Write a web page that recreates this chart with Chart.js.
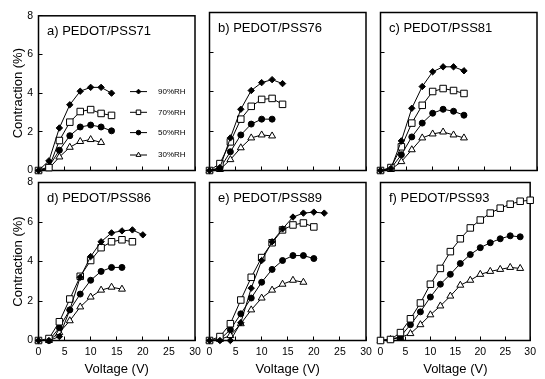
<!DOCTYPE html>
<html><head><meta charset="utf-8">
<script src="https://cdn.jsdelivr.net/npm/chart.js@4.4.1/dist/chart.umd.min.js"></script>
<style>
html,body{margin:0;padding:0;background:#fff;width:545px;height:379px;overflow:hidden}
canvas{position:absolute;left:0;top:0}
</style></head><body>
<canvas id="pa" width="545" height="379"></canvas>
<canvas id="pb" width="545" height="379"></canvas>
<canvas id="pc" width="545" height="379"></canvas>
<canvas id="pd" width="545" height="379"></canvas>
<canvas id="pe" width="545" height="379"></canvas>
<canvas id="pf" width="545" height="379"></canvas>
<script>
// ---- data ----
const volts = [0,2,4,6,8,10,12,14,16,18,20,22,24,26,28,30];
const seriesNames = ['90%RH','70%RH','50%RH','30%RH'];
const xTicks = [0,5,10,15,20,25,30];
const yTicks = [0,2,4,6,8];
const panelTitles = ['a) PEDOT/PSS71','b) PEDOT/PSS76','c) PEDOT/PSS81','d) PEDOT/PSS86','e) PEDOT/PSS89','f) PEDOT/PSS93'];

const a90 = [0, 0.5, 2.2, 3.4, 4.1, 4.3, 4.3, 4.0];
const a70 = [0, 0.15, 1.55, 2.5, 3.05, 3.15, 2.95, 2.85];
const a50 = [0, 0.2, 1.05, 1.8, 2.25, 2.35, 2.25, 2.05];
const a30 = [0, 0.1, 0.7, 1.2, 1.5, 1.6, 1.45];

const b90 = [0, 0.15, 1.65, 3.1, 4.05, 4.45, 4.6, 4.4];
const b70 = [0, 0.35, 1.45, 2.6, 3.25, 3.6, 3.65, 3.35];
const b50 = [0, 0.1, 0.95, 1.8, 2.35, 2.6, 2.6];
const b30 = [0, 0.05, 0.55, 1.15, 1.65, 1.8, 1.75];

const c90 = [0, 0.1, 1.5, 3.15, 4.25, 5.0, 5.25, 5.25, 5.05];
const c70 = [0, 0.15, 1.2, 2.4, 3.3, 4.0, 4.15, 4.05, 3.9];
const c50 = [0, 0.1, 0.8, 1.7, 2.4, 2.9, 3.1, 3.0, 2.8];
const c30 = [0, 0.05, 0.45, 1.05, 1.65, 1.85, 1.95, 1.8, 1.65];

const d90 = [0, 0, 0.2, 1.55, 3.2, 4.25, 5.0, 5.45, 5.55, 5.6, 5.35];
const d70 = [0, 0.1, 0.95, 2.1, 3.25, 4.05, 4.7, 5.0, 5.1, 5.0];
const d50 = [0, 0, 0.65, 1.55, 2.35, 3.05, 3.5, 3.7, 3.7];
const d30 = [0, 0, 0.4, 1.0, 1.7, 2.2, 2.55, 2.7, 2.6];

const e90 = [0, 0, 0, 0.9, 2.65, 4.05, 5.0, 5.65, 6.25, 6.45, 6.5, 6.45];
const e70 = [0, 0.2, 0.85, 2.05, 3.2, 4.2, 4.95, 5.6, 5.85, 5.95, 5.75];
const e50 = [0, 0.05, 0.55, 1.35, 2.15, 2.95, 3.6, 4.05, 4.3, 4.3, 4.15];
const e30 = [0, 0.05, 0.25, 0.85, 1.55, 2.15, 2.55, 2.85, 3.05, 2.95];

const f90 = [];
const f70 = [0, 0.05, 0.4, 1.1, 1.9, 2.85, 3.65, 4.5, 5.15, 5.7, 6.1, 6.45, 6.7, 6.9, 7.05, 7.1];
const f50 = [0, 0.05, 0.2, 0.8, 1.45, 2.2, 2.85, 3.35, 3.9, 4.35, 4.7, 4.95, 5.15, 5.3, 5.25];
const f30 = [0, 0.05, 0.15, 0.35, 0.8, 1.3, 1.75, 2.25, 2.8, 3.05, 3.35, 3.5, 3.6, 3.7, 3.65];

// ---- styles / layout ----
const FONT = '"Liberation Sans", Arial, Helvetica, sans-serif';
Chart.defaults.color = '#000';
Chart.defaults.font.family = FONT;

const styles = [
  {pointStyle:'rectRot', r:3.2, bg:'#000', lr:2.4},
  {pointStyle:'rect', r:4.6, bg:'#fff', lr:3.2},
  {pointStyle:'circle', r:3.0, bg:'#000', lr:2.3},
  {pointStyle:'triangle', r:4.0, bg:'#fff', lr:2.8}
];

const panels = [
  {id:'pa', box:[38.5,12.5,195,170.5], yLab:true,  xLab:false, legend:true,  data:[a90,a70,a50,a30]},
  {id:'pb', box:[209.5,12.5,366,170.5], yLab:false, xLab:false, legend:false, data:[b90,b70,b50,b30]},
  {id:'pc', box:[380.5,12.5,537,170.5], yLab:false, xLab:false, legend:false, data:[c90,c70,c50,c30]},
  {id:'pd', box:[38.5,182.5,195,340.5], yLab:true,  xLab:true,  legend:false, data:[d90,d70,d50,d30]},
  {id:'pe', box:[209.5,182.5,366,340.5], yLab:false, xLab:true,  legend:false, data:[e90,e70,e50,e30]},
  {id:'pf', box:[380.5,182.5,537,340.5], yLab:false, xLab:true,  legend:false, data:[f90,f70,f50,f30]}
];

const framePlugin = {
  id:'frame',
  beforeDatasetsDraw(chart){
    const {ctx, chartArea:a} = chart;
    ctx.save();
    ctx.strokeStyle = '#000';
    ctx.lineWidth = 1.5;
    ctx.strokeRect(a.left, a.top, a.right - a.left, a.bottom - a.top);
    ctx.restore();
  }
};

const titlePlugin = {
  id:'panelTitle',
  afterDraw(chart, args, opts){
    const {ctx, chartArea:a} = chart;
    ctx.save();
    ctx.fillStyle = '#000';
    ctx.font = '13px ' + FONT;
    ctx.textBaseline = 'middle';
    ctx.textAlign = 'left';
    ctx.fillText(opts.text, a.left + 8.5, a.top + 15.5);
    ctx.restore();
  }
};

const legendPlugin = {
  id:'insetLegend',
  afterDraw(chart, args, opts){
    if (!opts.show) return;
    const {ctx, chartArea:a} = chart;
    const rows = [75.8, 96.5, 116.8, 139.2];
    ctx.save();
    chart.data.datasets.forEach((ds, i) => {
      const y = a.top + rows[i];
      const x0 = a.left + 91.5, x1 = a.left + 108.5, xm = a.left + 100;
      ctx.strokeStyle = '#000';
      ctx.lineWidth = 1;
      ctx.beginPath(); ctx.moveTo(x0, y); ctx.lineTo(x1, y); ctx.stroke();
      ctx.fillStyle = styles[i].bg;
      ctx.strokeStyle = '#000';
      ctx.lineWidth = 1;
      Chart.helpers.drawPoint(ctx, {pointStyle: styles[i].pointStyle, radius: styles[i].lr, rotation: 0, borderWidth: 1}, xm, y);
      ctx.fillStyle = '#000';
      ctx.font = '8px ' + FONT;
      ctx.textBaseline = 'middle';
      ctx.textAlign = 'left';
      ctx.fillText(ds.label, a.left + 119.5, y);
    });
    ctx.restore();
  }
};

function pts(arr){ return arr.map((y, i) => ({x: volts[i], y: y})); }

panels.forEach((p, k) => {
  const [L, T, R, B] = p.box;
  const datasets = p.data.map((arr, i) => ({
    label: seriesNames[i],
    data: pts(arr),
    borderColor: '#000',
    borderWidth: 1,
    backgroundColor: styles[i].bg,
    pointStyle: styles[i].pointStyle,
    pointRadius: styles[i].r,
    pointBackgroundColor: styles[i].bg,
    pointBorderColor: '#000',
    pointBorderWidth: 1,
    tension: 0,
    clip: false
  })).filter(d => d.data.length > 0);

  new Chart(document.getElementById(p.id), {
    type: 'line',
    data: { datasets },
    options: {
      responsive: false,
      animation: false,
      events: [],
      layout: { padding: { left: 0, top: T, right: 545 - R, bottom: 0 } },
      plugins: {
        legend: { display: false },
        tooltip: { enabled: false },
        panelTitle: { text: panelTitles[k] },
        insetLegend: { show: p.legend }
      },
      scales: {
        x: {
          type: 'linear', min: 0, max: 30,
          afterFit: s => { s.height = 379 - B; },
          afterBuildTicks: s => { s.ticks = xTicks.map(v => ({value: v})); },
          border: { display: false },
          grid: { drawOnChartArea: false, drawTicks: true, tickLength: -4, color: '#000', lineWidth: 1 },
          ticks: { display: p.xLab, padding: 9, font: { size: 10.5 }, color: '#000', maxRotation: 0 },
          title: { display: p.xLab, text: 'Voltage (V)', font: { size: 13 }, color: '#000', padding: { top: 0, bottom: 2.2 } }
        },
        y: {
          type: 'linear', min: 0, max: 8,
          afterFit: s => { s.width = L; },
          afterBuildTicks: s => { s.ticks = yTicks.map(v => ({value: v})); },
          border: { display: false },
          grid: { drawOnChartArea: false, drawTicks: true, tickLength: -4, color: '#000', lineWidth: 1 },
          ticks: { display: p.yLab, padding: 9.5, font: { size: 10.5 }, color: '#000' },
          title: { display: p.yLab, text: 'Contraction (%)', font: { size: 13 }, color: '#000', padding: { top: 10.2, bottom: 0 } }
        }
      }
    },
    plugins: [framePlugin, titlePlugin, legendPlugin]
  });
});
</script>
</body></html>
